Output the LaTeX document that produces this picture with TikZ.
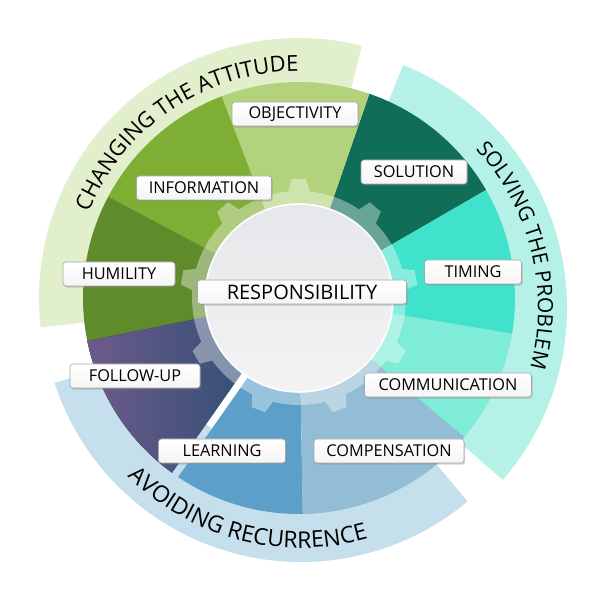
\documentclass[tikz,border=0pt]{standalone}
\usepackage{fontspec}
\setmainfont{Open Sans}
\usetikzlibrary{calc,shadows,decorations.text}
\definecolor{cSol}{HTML}{0F6D58}
\definecolor{cObj}{HTML}{B3D27C}
\definecolor{cInfo}{HTML}{7EAE34}
\definecolor{cHum}{HTML}{5F8B2A}
\definecolor{cFuL}{HTML}{6E5A8C}
\definecolor{cFuR}{HTML}{1E4D6D}
\definecolor{cLearn}{HTML}{5C9FC9}
\definecolor{cComp}{HTML}{93BCD5}
\definecolor{cComm}{HTML}{7FECD8}
\definecolor{cTim}{HTML}{40E2CB}
\definecolor{bandG}{HTML}{E2EFCD}
\definecolor{bandT}{HTML}{B5F1E6}
\definecolor{bandB}{HTML}{C5DFEC}
\definecolor{hubA}{HTML}{E6E7EA}
\definecolor{hubB}{HTML}{F3F3F4}
\newcommand\drawseg[3]{\fill[#3] (C) -- ([shift={(#1:216)}]C) arc[start angle=#1, end angle=#2, radius=216] -- cycle;}
\begin{document}
\begin{tikzpicture}[x=1pt,y=1pt,
  lbl/.style={draw=black!35, line width=0.6pt, rounded corners=3pt,
    top color=white, bottom color=black!4,
    minimum height=24pt, inner sep=0pt, text=black,
    font=\fontsize{16.3}{17}\selectfont,
    drop shadow={shadow xshift=1.2pt, shadow yshift=-1.6pt, opacity=0.35}},
  hublbl/.style={lbl, font=\fontsize{20}{21}\selectfont},
  gearfill/.style={fill=white, fill opacity=0.38},
  bandtext/.style={decorate, decoration={text along path, text align=center}}]
\fill[white] (0,0) rectangle (600,600);
\useasboundingbox (0,0) rectangle (600,600);
\coordinate (C) at (299,302);
\coordinate (R) at (305,292);
\coordinate (B) at (301,297);
% outer bands
\fill[bandG] (C) -- ([shift={(76:260)}]C) arc[start angle=76, end angle=186.5, radius=260] -- cycle;
\fill[bandT] (R) -- ([shift={(-41:262)}]R) arc[start angle=-41, end angle=68, radius=262] -- cycle;
\fill[bandB] ([shift={(198:155)}]B) arc[start angle=198, end angle=310, radius=155]
  -- ([shift={(310:259)}]B) arc[start angle=310, end angle=198, radius=259] -- cycle;
% segments
\drawseg{30}{71}{cSol}
\drawseg{71}{111}{cObj}
\drawseg{111}{152}{cInfo}
\drawseg{152}{191.5}{cHum}
\drawseg{191.5}{235}{left color=cFuL, right color=cFuR}
\drawseg{235}{271}{cLearn}
\drawseg{271}{320}{cComp}
\drawseg{320}{350.5}{cComm}
\drawseg{350.5}{390}{cTim}
% gap between follow-up and learning
\draw[line width=7pt, white] ([shift={(235:94)}]C) -- ([shift={(235:157)}]C);
\draw[line width=7pt, bandB] ([shift={(235:157)}]C) -- ([shift={(235:217)}]C);
% gear ring
\fill[gearfill] (C) circle[radius=107]
  foreach \a in {10,50,...,330} {
    ([shift={(\a-6.5:104)}]C) -- ([shift={(\a-3.5:119)}]C) -- ([shift={(\a+3.5:119)}]C) -- ([shift={(\a+6.5:104)}]C) -- cycle
  };
% hub
\node[circle, top color=hubA, bottom color=hubB, draw=white, line width=1.6pt, minimum size=188pt, inner sep=0pt] (hub) at (C) {};
% labels
\node[hublbl, minimum width=209pt] (resp) at (302,308) {RESPONSIBILITY};
\node[lbl, minimum width=126pt] (obj) at (295,486) {OBJECTIVITY};
\node[lbl, minimum width=135pt] (info) at (204,412) {INFORMATION};
\node[lbl, minimum width=112pt] (hum) at (119,326) {HUMILITY};
\node[lbl, minimum width=130pt] (fu) at (135,224) {FOLLOW-UP};
\node[lbl, minimum width=127pt] (learn) at (222,149) {LEARNING};
\node[lbl, minimum width=150pt] (comp) at (389,149) {COMPENSATION};
\node[lbl, minimum width=167pt] (comm) at (448,215) {COMMUNICATION};
\node[lbl, minimum width=97pt] (tim) at (473,328) {TIMING};
\node[lbl, minimum width=106pt] (sol) at (414,428) {SOLUTION};
% band titles
\path[bandtext, decoration={text={|\fontsize{22}{22}\selectfont|CHANGING THE ATTITUDE}}]
  ([shift={(162:227)}]C) arc[start angle=162, end angle=86, radius=227];
\path[bandtext, decoration={text={|\fontsize{21}{21}\selectfont|SOLVING THE PROBLEM}}]
  ([shift={(47:233)}]R) arc[start angle=47, end angle=-19, radius=233];
\path[bandtext, decoration={text={|\fontsize{23}{23}\selectfont|AVOIDING RECURRENCE}}]
  ([shift={(213:245)}]B) arc[start angle=213, end angle=298, radius=245];
\end{tikzpicture}
\end{document}
